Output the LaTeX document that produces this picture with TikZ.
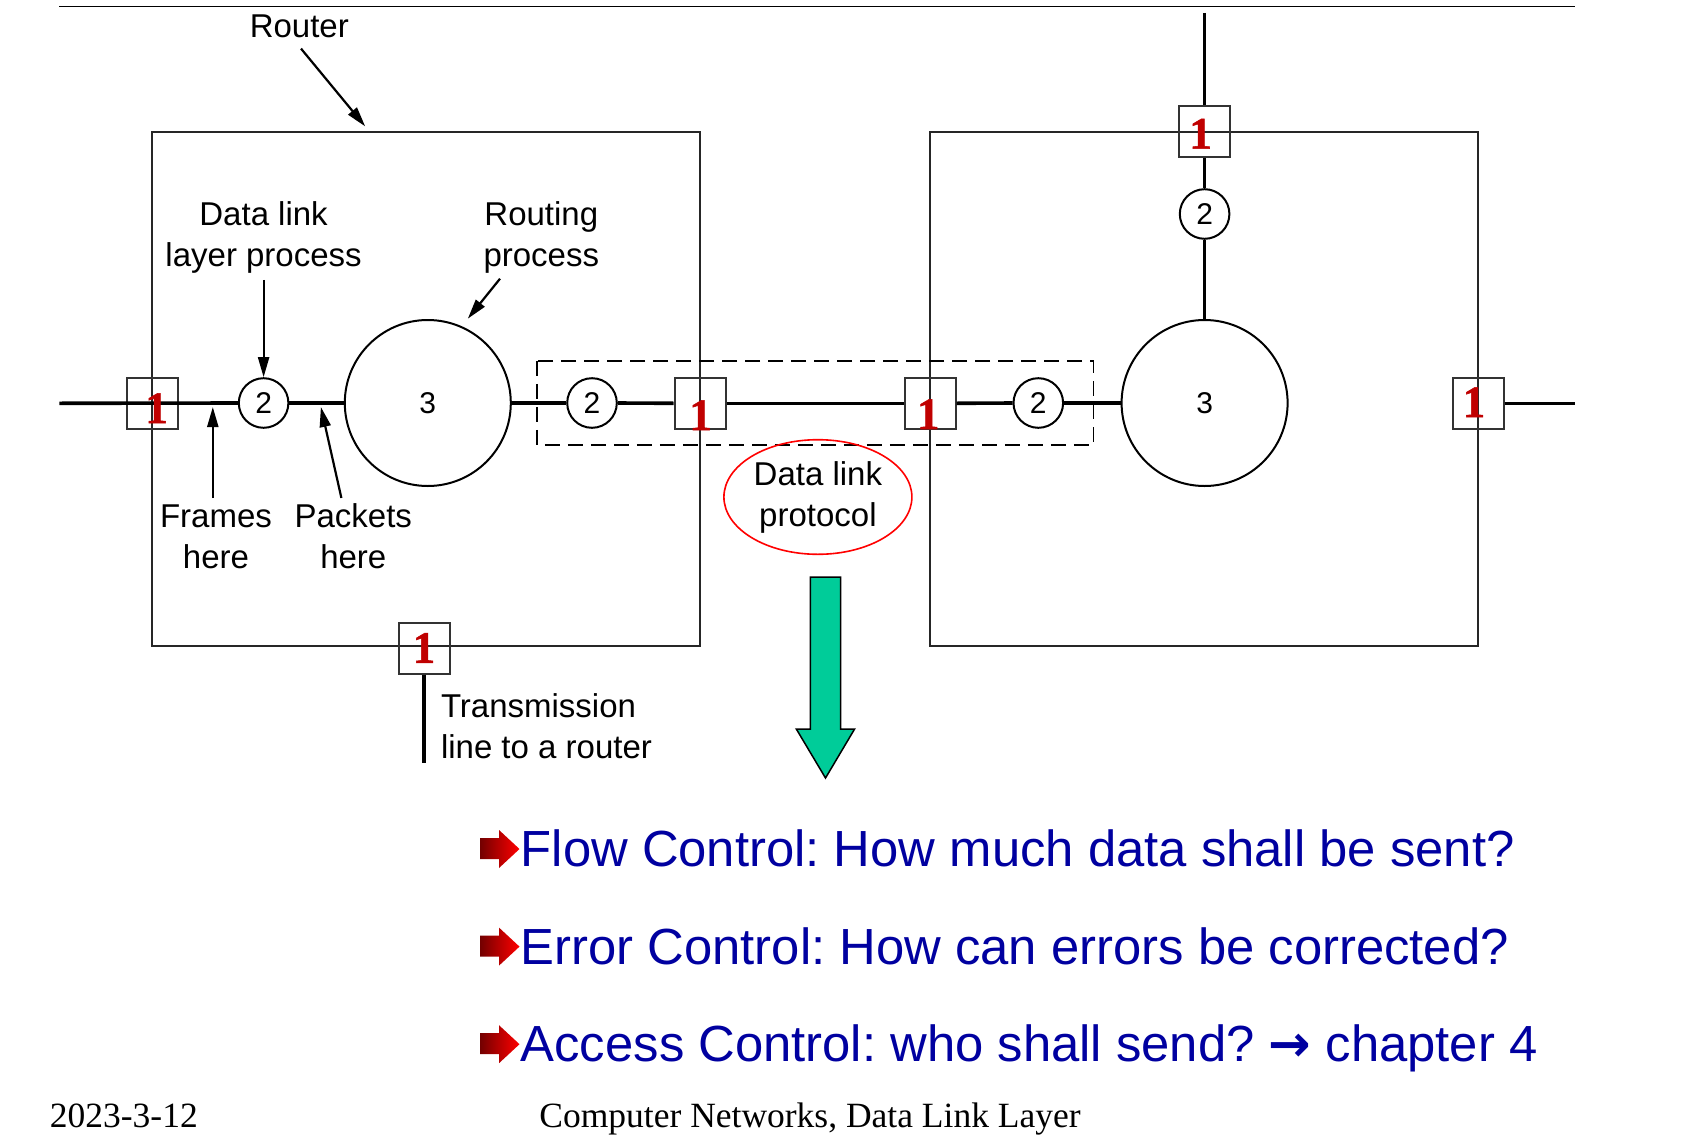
\documentclass[tikz,border=0pt]{standalone}
\usepackage{fontspec}
\setmainfont{Liberation Sans}
\newfontfamily\serifface{Liberation Serif}
\newfontfamily\portface{Liberation Serif}[BoldFeatures={FakeBold=1.2}]
\newfontfamily\symface{DejaVu Sans}
\usetikzlibrary{arrows.meta,calc}

\definecolor{portred}{RGB}{192,0,0}
\definecolor{textblue}{RGB}{0,0,160}
\definecolor{arrowgreen}{RGB}{0,204,153}

\tikzset{
  wire/.style={line width=3.6pt},
  frame/.style={line width=2pt, draw=black!85},
  portbox/.style={draw=black!80, line width=2pt, minimum size=51pt, inner sep=0pt},
  dlproc/.style={circle, draw, line width=2pt, minimum size=49.6pt, inner sep=0pt,
                 font=\fontsize{30}{30}\selectfont},
  rtproc/.style={circle, draw, line width=2pt, minimum size=166pt, inner sep=0pt,
                 font=\fontsize{30}{30}\selectfont},
  portnum/.style={text=portred, inner sep=0pt,
                  font=\portface\bfseries\fontsize{45}{45}\selectfont},
  lbl/.style={inner sep=0pt, anchor=base, font=\fontsize{33}{40}\selectfont},
  pointer/.style={line width=2.2pt, -{Triangle[length=20pt,width=11pt]}},
  question/.style={inner sep=0pt, anchor=base west, text=textblue,
                   font=\frenchspacing\fontsize{50.8}{60}\selectfont},
  footer/.style={inner sep=0pt, font=\serifface\fontsize{35.5}{40}\selectfont},
}

\begin{document}
\begin{tikzpicture}[x=1pt,y=-1pt]
\useasboundingbox (0,0) rectangle (1694,1140);

% rule at the top of the page
\coordinate (rule-l) at (59.4,6.5);
\coordinate (rule-r) at (1575,6.5);
\draw[line width=1.6pt] (rule-l) -- (rule-r);

% the two routers
\draw[frame] (152.3,131.8) rectangle (700.1,646);
\draw[frame] (930.2,131.8) rectangle (1478,646);

% dashed region of the data link protocol
\draw[line width=1.8pt, dash pattern=on 15pt off 8pt] (537,360.9) rectangle (1093.4,445.1);

% processes
\node[dlproc] (c2a) at (263.6,403) {2};
\node[rtproc] (c3a) at (427.8,403) {3};
\node[dlproc] (c2b) at (592,403) {2};
\node[dlproc] (c2c) at (1038.3,403) {2};
\node[rtproc] (c3b) at (1204.6,403) {3};
\node[dlproc] (c2d) at (1204.6,214) {2};

% line ports
\node[portbox] (b1) at (152.6,403.3) {};
\node[portbox] (b2) at (700.1,403.3) {};
\node[portbox] (b3) at (930.2,403.3) {};
\node[portbox] (b5) at (1478,403.3) {};
\node[portbox] (b4) at (1204.6,131.8) {};
\node[portbox] (b6) at (424,648) {};

% free ends of the transmission lines
\coordinate (lend) at (59.4,403.3);
\coordinate (rend) at (1575,403.3);
\coordinate (tend) at (1204.6,13);
\coordinate (bend) at (424,763);

% transmission lines
\draw[wire] (lend) -- (c2a.west);
\draw[wire] (c2a.east) -- (c3a.west);
\draw[wire] (c3a.east) -- (c2b.west);
\draw[wire] (c2b.east) -- (b2.west);
\draw[wire] (b2.east) -- (b3.west);
\draw[wire] (b3.east) -- (c2c.west);
\draw[wire] (c2c.east) -- (c3b.west);
\draw[wire] (b5.east) -- (rend);
\draw[wire] (tend) -- (b4.north);
\draw[wire] (b4.south) -- (c2d.north);
\draw[wire] (c2d.south) -- (c3b.north);
\draw[wire] (b6.south) -- (bend);

% port numbers
\node[portnum, xshift=4pt, yshift=-5pt] (n1) at (b1) {1};
\node[portnum, xshift=0.5pt, yshift=-12pt] (n2) at (b2) {1};
\node[portnum, xshift=-2pt, yshift=-11pt] (n3) at (b3) {1};
\node[portnum, xshift=-4pt, yshift=1pt] (n5) at (b5) {1};
\node[portnum, xshift=-4pt, yshift=-2pt] (n4) at (b4) {1};
\node[portnum] (n6) at (b6) {1};

% labels with pointers
\node[lbl] (router) at (299.3,38) {Router};
\coordinate (router-tip) at (365.2,126.4);
\draw[pointer] (301,48.6) -- (router-tip);

\node[lbl] (dl1) at (263.6,225) {Data link};
\node[lbl] (dl2) at (263.6,266) {layer process};
\draw[pointer] (263.6,279.8) -- (c2a.north);

\node[lbl] (rp1) at (541.3,225) {Routing};
\node[lbl] (rp2) at (541.3,266) {process};
\coordinate (rp-tip) at (467.8,318.7);
\draw[pointer] (500,278.7) -- (rp-tip);

\node[lbl] (fr1) at (216,527) {Frames};
\node[lbl] (fr2) at (216,568) {here};
\coordinate (fr-tip) at (212.8,407);
\draw[pointer] (212.8,498) -- (fr-tip);

\node[lbl] (pk1) at (353.3,527) {Packets};
\node[lbl] (pk2) at (353.3,568) {here};
\coordinate (pk-tip) at (320.9,407);
\draw[pointer] (341.4,498) -- (pk-tip);

\node[lbl, anchor=base west] (tl1) at (440.8,717) {Transmission};
\node[lbl, anchor=base west] (tl2) at (440.8,758) {line to a router};

% data link protocol
\draw[red, line width=1.6pt] (817.9,497) ellipse [x radius=94, y radius=57.3];
\node[lbl] (dp1) at (817.9,485) {Data link};
\node[lbl] (dp2) at (817.9,526) {protocol};

% big downward arrow
\filldraw[fill=arrowgreen, draw=black, line width=1.5pt]
  (810.3,577) -- (840.5,577) -- (840.5,729) -- (854.6,729) -- (825.5,778)
  -- (796.3,729) -- (810.3,729) -- cycle;

% questions
\foreach \dy in {0,97.6,195.2} {
  \shade[left color=red!45!black, right color=red]
    (480,838+\dy) -- (499,838+\dy) -- (499,830+\dy) -- (519.5,849+\dy)
    -- (499,868+\dy) -- (499,859+\dy) -- (480,859+\dy) -- cycle;
}
\node[question] (q1) at (520.5,866.7) {Flow Control: How much data shall be sent?};
\node[question] (q2) at (520.5,964.3) {Error Control: How can errors be corrected?};
\node[question] (q3) at (520.5,1061.9) {Access Control: who shall send? {\symface\bfseries →} chapter 4};

% footer
\node[footer, anchor=base west] (date) at (49.7,1127) {2023-3-12};
\node[footer, anchor=base] (title) at (810,1127) {Computer Networks, Data Link Layer};
\end{tikzpicture}
\end{document}
